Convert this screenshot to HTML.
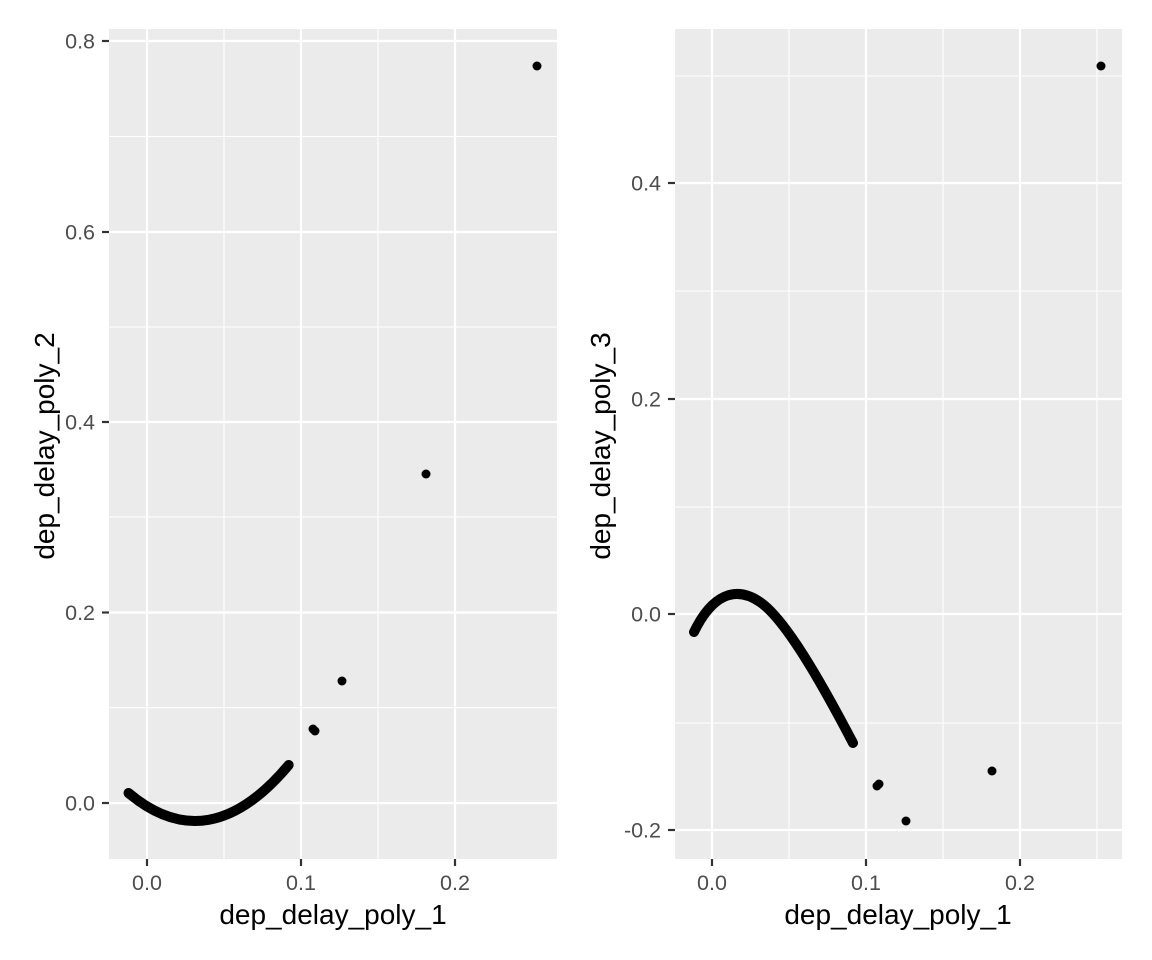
<!DOCTYPE html>
<html><head><style>body{margin:0;background:#fff}svg{display:block}</style></head><body>
<svg width="1152" height="960" xmlns="http://www.w3.org/2000/svg" font-family="Liberation Sans, sans-serif">
<rect width="1152" height="960" fill="#fff"/>
<!-- Left panel -->
<rect x="109" y="29" width="448" height="830" fill="#ebebeb"/>
<g stroke="#fff" stroke-width="1.1">
<line x1="109" x2="557" y1="707.7" y2="707.7"/><line x1="109" x2="557" y1="517" y2="517"/><line x1="109" x2="557" y1="327" y2="327"/><line x1="109" x2="557" y1="136.5" y2="136.5"/>
<line y1="29" y2="859" x1="224" x2="224"/><line y1="29" y2="859" x1="378" x2="378"/>
</g>
<g stroke="#fff" stroke-width="2.2">
<line x1="109" x2="557" y1="803" y2="803"/><line x1="109" x2="557" y1="612.5" y2="612.5"/><line x1="109" x2="557" y1="422" y2="422"/><line x1="109" x2="557" y1="232" y2="232"/><line x1="109" x2="557" y1="41" y2="41"/>
<line y1="29" y2="859" x1="147" x2="147"/><line y1="29" y2="859" x1="301" x2="301"/><line y1="29" y2="859" x1="455" x2="455"/>
</g>
<path d="M128.5,793 Q208.6,860.6 288.7,765" fill="none" stroke="#000" stroke-width="10" stroke-linecap="round"/>
<g fill="#000"><circle cx="313" cy="729" r="4.5"/><circle cx="315" cy="731" r="4.5"/><circle cx="342" cy="681" r="4.5"/><circle cx="426" cy="474" r="4.5"/><circle cx="537" cy="66" r="4.5"/></g>
<g stroke="#333" stroke-width="2.2">
<line x1="102" x2="109" y1="803" y2="803"/><line x1="102" x2="109" y1="612.5" y2="612.5"/><line x1="102" x2="109" y1="422" y2="422"/><line x1="102" x2="109" y1="232" y2="232"/><line x1="102" x2="109" y1="41" y2="41"/>
<line y1="859" y2="866" x1="147" x2="147"/><line y1="859" y2="866" x1="301" x2="301"/><line y1="859" y2="866" x1="455" x2="455"/>
</g>
<g fill="#4d4d4d" font-size="21.5" text-anchor="end">
<text x="95" y="810.5">0.0</text><text x="95" y="620">0.2</text><text x="95" y="429.5">0.4</text><text x="95" y="239.5">0.6</text><text x="95" y="48.5">0.8</text>
</g>
<g fill="#4d4d4d" font-size="21.5" text-anchor="middle">
<text x="147" y="890">0.0</text><text x="301" y="890">0.1</text><text x="455" y="890">0.2</text>
</g>
<text x="333" y="924" font-size="28" text-anchor="middle">dep_delay_poly_1</text>
<text transform="translate(54,446) rotate(-90)" font-size="28" text-anchor="middle">dep_delay_poly_2</text>
<!-- Right panel -->
<rect x="675" y="29" width="447" height="830" fill="#ebebeb"/>
<g stroke="#fff" stroke-width="1.1">
<line x1="675" x2="1122" y1="723" y2="723"/><line x1="675" x2="1122" y1="507" y2="507"/><line x1="675" x2="1122" y1="291" y2="291"/><line x1="675" x2="1122" y1="76" y2="76"/>
<line y1="29" y2="859" x1="789" x2="789"/><line y1="29" y2="859" x1="943" x2="943"/><line y1="29" y2="859" x1="1097" x2="1097"/>
</g>
<g stroke="#fff" stroke-width="2.2">
<line x1="675" x2="1122" y1="830" y2="830"/><line x1="675" x2="1122" y1="614" y2="614"/><line x1="675" x2="1122" y1="399" y2="399"/><line x1="675" x2="1122" y1="183" y2="183"/>
<line y1="29" y2="859" x1="712" x2="712"/><line y1="29" y2="859" x1="866" x2="866"/><line y1="29" y2="859" x1="1020" x2="1020"/>
</g>
<path d="M694,632 C712,595 735,585 760,602 S820,680 853,743" fill="none" stroke="#000" stroke-width="10" stroke-linecap="round"/>
<g fill="#000"><circle cx="879" cy="784" r="4.5"/><circle cx="877" cy="786" r="4.5"/><circle cx="906" cy="821" r="4.5"/><circle cx="992" cy="771" r="4.5"/><circle cx="1101" cy="66" r="4.5"/></g>
<g stroke="#333" stroke-width="2.2">
<line x1="668" x2="675" y1="830" y2="830"/><line x1="668" x2="675" y1="614" y2="614"/><line x1="668" x2="675" y1="399" y2="399"/><line x1="668" x2="675" y1="183" y2="183"/>
<line y1="859" y2="866" x1="712" x2="712"/><line y1="859" y2="866" x1="866" x2="866"/><line y1="859" y2="866" x1="1020" x2="1020"/>
</g>
<g fill="#4d4d4d" font-size="21.5" text-anchor="end">
<text x="661" y="837.5">-0.2</text><text x="661" y="621.5">0.0</text><text x="661" y="406.5">0.2</text><text x="661" y="190.5">0.4</text>
</g>
<g fill="#4d4d4d" font-size="21.5" text-anchor="middle">
<text x="712" y="890">0.0</text><text x="866" y="890">0.1</text><text x="1020" y="890">0.2</text>
</g>
<text x="898" y="924" font-size="28" text-anchor="middle">dep_delay_poly_1</text>
<text transform="translate(610,446) rotate(-90)" font-size="28" text-anchor="middle">dep_delay_poly_3</text>
</svg>
</body></html>
